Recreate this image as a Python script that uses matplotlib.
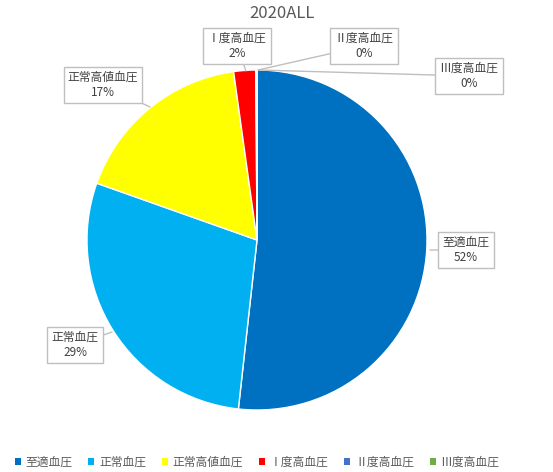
import matplotlib
matplotlib.use('Agg')
import matplotlib.pyplot as plt
from matplotlib.patches import Patch

plt.rcParams['font.family'] = ['Noto Sans CJK JP', 'DejaVu Sans']

# data
categories = ['至適血圧', '正常血圧', '正常高値血圧', 'Ⅰ度高血圧', 'Ⅱ度高血圧', 'Ⅲ度高血圧']
shares = [51.8, 28.7, 17.4, 2.1, 0.05, 0.05]
pct_labels = ['52%', '29%', '17%', '2%', '0%', '0%']
colors = ['#0070C0', '#00B0F0', '#FFFF00', '#FF0000', '#4472C4', '#70AD47']

W, H = 553, 472
CX, CY, R = 257, 240, 170


def px(x, y):
    # pixel position -> data coords (pie radius = 1)
    return (x - CX) / R, (CY - y) / R


fig = plt.figure(figsize=(W / 100, H / 100), dpi=100)
ax = fig.add_axes([0, 0, 1, 1])

wedges, _ = ax.pie(shares, colors=colors, startangle=90, counterclock=False,
                   radius=1, wedgeprops=dict(edgecolor='white', linewidth=1))

ax.set_xlim(-CX / R, (W - CX) / R)
ax.set_ylim((CY - H) / R, CY / R)
ax.set_aspect('auto')
ax.axis('off')

# label boxes (centre in pixels) and where their pointer touches the pie
box_pos = [(466, 250), (75, 345), (103, 85), (237, 46), (364, 46), (469, 76)]
tip_pos = [(430, 250), (112, 332), (150, 107), (246, 71), (258, 70), (258, 70)]

for name, pct, (bx, by), (tx, ty) in zip(categories, pct_labels, box_pos, tip_pos):
    ax.annotate(name + '\n' + pct, xy=px(tx, ty), xytext=px(bx, by),
                ha='center', va='center', fontsize=8.5, color='#404040',
                linespacing=1.25,
                bbox=dict(boxstyle='square,pad=0.35', fc='white', ec='#BFBFBF', lw=1),
                arrowprops=dict(arrowstyle='-', color='#BFBFBF', lw=1,
                                shrinkA=0, shrinkB=0))

fig.text(282 / W, 1 - 14 / H, '2020ALL', ha='center', va='center',
         fontsize=12, color='#595959')

handles = [Patch(facecolor=c, edgecolor='none') for c in colors]
fig.legend(handles, categories, loc='center', bbox_to_anchor=(0.465, 1 - 462 / H),
           ncol=6, frameon=False, fontsize=8.5, labelcolor='#595959',
           handlelength=0.5, handleheight=0.5, handletextpad=0.4,
           columnspacing=1.35)

fig.savefig('out.png', dpi=100)
